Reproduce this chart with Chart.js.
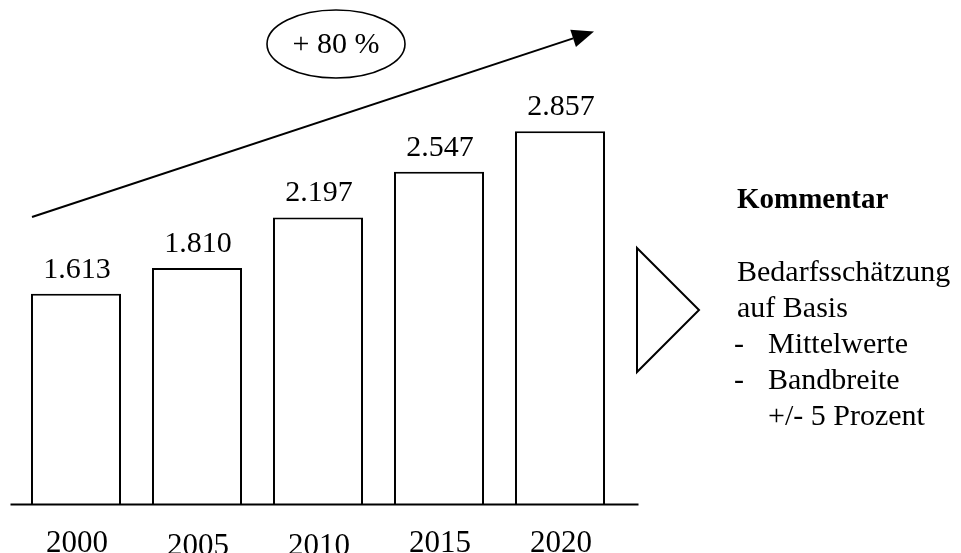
<!DOCTYPE html>
<html lang="de">
<head>
<meta charset="utf-8">
<title>Bedarfsschätzung 2000–2020</title>
<script src="https://cdn.jsdelivr.net/npm/chart.js@4/dist/chart.umd.min.js"></script>
<style>
  html, body { margin: 0; padding: 0; background: #fff; }
  #wrap { position: relative; width: 961px; height: 553px; }
</style>
</head>
<body>
<div id="wrap"><canvas id="chart"></canvas></div>
<script>
// Data
const years = ['2000', '2005', '2010', '2015', '2020'];
const demand = [1613, 1810, 2197, 2547, 2857];
const growthLabel = '+ 80 %';
const commentTitle = 'Kommentar';
const commentLines = ['Bedarfsschätzung', 'auf Basis', '-\tMittelwerte', '-\tBandbreite', '\t+/- 5 Prozent'];

// Styling
const SERIF = '"Liberation Serif", "Times New Roman", Times, serif';
const tickDrop = [0, 3, 3, 0, 0];   // slight vertical stagger of the year labels

// German thousands separator: 1613 -> "1.613"
const fmt = v => String(v).replace(/\B(?=(\d{3})+(?!\d))/g, '.');

const decorations = {
  id: 'decorations',
  afterDatasetsDraw(chart) {
    const { ctx, chartArea: a, scales: { x, y } } = chart;
    const base = y.getPixelForValue(0);
    ctx.save();
    ctx.strokeStyle = '#000';
    ctx.fillStyle = '#000';
    ctx.lineWidth = 2;

    // baseline under the bars
    ctx.beginPath();
    ctx.moveTo(a.left - 5, base);
    ctx.lineTo(a.right + 18, base);
    ctx.stroke();

    // value labels above the bars
    ctx.textAlign = 'center';
    ctx.textBaseline = 'alphabetic';
    ctx.font = '30px ' + SERIF;
    chart.getDatasetMeta(0).data.forEach((bar, i) => {
      ctx.fillText(fmt(demand[i]), bar.x + 1, bar.y - 16);
    });

    // year labels
    ctx.font = '31px ' + SERIF;
    years.forEach((yr, i) => {
      ctx.fillText(yr, x.getPixelForValue(i) + 1, base + 47 + tickDrop[i]);
    });

    // growth arrow
    const x0 = x.getPixelForValue(0) - 44, y0 = y.getPixelForValue(2200);
    const x1 = x.getPixelForValue(years.length - 1) + 34, y1 = y.getPixelForValue(3620);
    const ang = Math.atan2(y1 - y0, x1 - x0);
    const headLen = 22, headHalf = 9;
    const bx = x1 - headLen * Math.cos(ang), by = y1 - headLen * Math.sin(ang);
    ctx.beginPath();
    ctx.moveTo(x0, y0);
    ctx.lineTo(bx, by);
    ctx.stroke();
    ctx.beginPath();
    ctx.moveTo(x1, y1);
    ctx.lineTo(bx + headHalf * Math.sin(ang), by - headHalf * Math.cos(ang));
    ctx.lineTo(bx - headHalf * Math.sin(ang), by + headHalf * Math.cos(ang));
    ctx.closePath();
    ctx.fill();

    // growth badge
    const ex = 336, ey = 44;
    ctx.lineWidth = 1.6;
    ctx.beginPath();
    ctx.ellipse(ex, ey, 69, 34, 0, 0, Math.PI * 2);
    ctx.stroke();
    ctx.font = '30px ' + SERIF;
    ctx.textBaseline = 'middle';
    ctx.fillText(growthLabel, ex, ey + 1);

    // pointer triangle
    const tx = a.right + 16.5;
    ctx.lineWidth = 2;
    ctx.beginPath();
    ctx.moveTo(tx, 248);
    ctx.lineTo(tx + 62, 310);
    ctx.lineTo(tx, 372);
    ctx.closePath();
    ctx.stroke();

    // comment panel
    ctx.textAlign = 'left';
    ctx.textBaseline = 'alphabetic';
    const px = 737, indent = 768;
    ctx.font = 'bold 29px ' + SERIF;
    ctx.fillText(commentTitle, px, 208);
    ctx.font = '30px ' + SERIF;
    commentLines.forEach((line, i) => {
      const yy = 281 + i * 36;
      const parts = line.split('\t');
      if (parts.length === 1) {
        ctx.fillText(parts[0], px, yy);
      } else {
        if (parts[0]) ctx.fillText(parts[0], px - 3, yy);
        ctx.fillText(parts[1], indent, yy);
      }
    });
    ctx.restore();
  }
};

new Chart(document.getElementById('chart'), {
  type: 'bar',
  data: {
    labels: years,
    datasets: [{
      data: demand,
      backgroundColor: '#fff',
      borderColor: '#000',
      borderWidth: 2,
      borderSkipped: 'bottom',
      categoryPercentage: 1,
      barPercentage: 0.744
    }]
  },
  options: {
    responsive: true,
    maintainAspectRatio: false,
    animation: false,
    layout: { padding: { left: 15.5, right: 340.5, top: 4, bottom: 48.5 } },
    plugins: { legend: { display: false }, tooltip: { enabled: false } },
    scales: {
      x: { display: false },
      y: { display: false, min: 0, max: 3830 }
    }
  },
  plugins: [decorations]
});
</script>
</body>
</html>
